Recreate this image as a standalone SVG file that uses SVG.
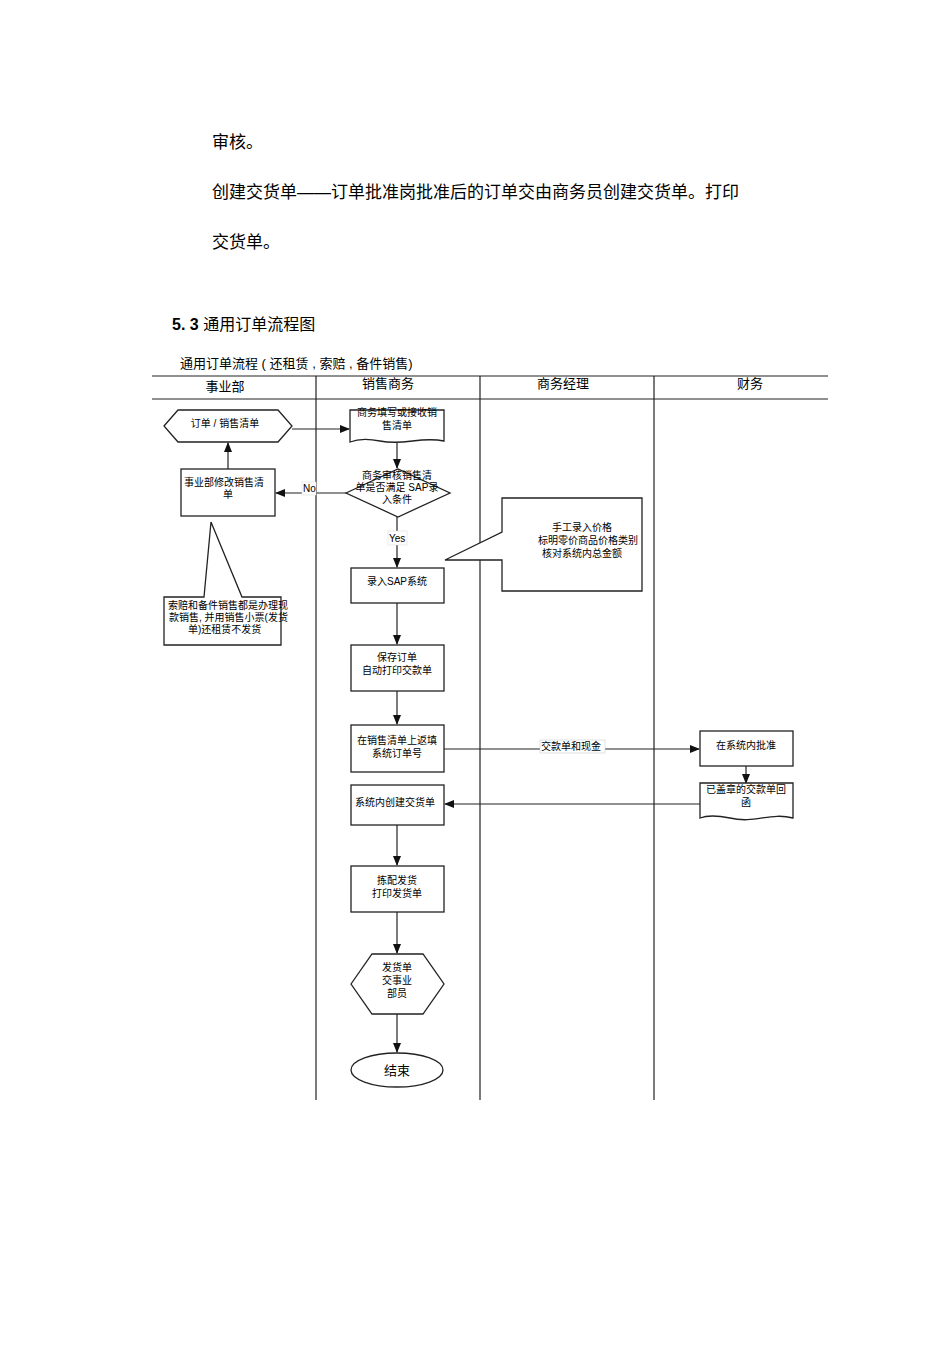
<svg xmlns="http://www.w3.org/2000/svg" width="950" height="1345" viewBox="0 0 950 1345">
<style>
text{font-family:"Liberation Sans","Noto Sans CJK SC",sans-serif;fill:#000}
.s{font-size:10px}
.b{font-size:17px}
.n{fill:#fff;stroke:#222;stroke-width:1.3}
.l{stroke:#222;stroke-width:1.2;fill:none}
.c{stroke:#222;stroke-width:1.2;fill:none;marker-end:url(#a)}
</style>
<defs><marker id="a" markerWidth="10" markerHeight="10" refX="9" refY="5" orient="auto" markerUnits="userSpaceOnUse"><path d="M0,1 L10,5 L0,9 Z" fill="#111"/></marker></defs>
<rect width="950" height="1345" fill="#fff"/>
<text class="b" x="212" y="148">审核。</text>
<text class="b" x="212" y="198">创建交货单——订单批准岗批准后的订单交由商务员创建交货单。打印</text>
<text class="b" x="212" y="248">交货单。</text>
<text x="172" y="330" font-size="16"><tspan font-weight="bold">5. 3</tspan> 通用订单流程图</text>
<text x="180" y="368" font-size="13">通用订单流程 ( 还租赁 , 索赔 , 备件销售)</text>
<g id="lanes" class="l">
<line x1="152" y1="376" x2="828" y2="376"/><line x1="152" y1="399" x2="828" y2="399"/>
<line x1="316" y1="376" x2="316" y2="1100"/><line x1="480" y1="376" x2="480" y2="1100"/><line x1="654" y1="376" x2="654" y2="1100"/>
</g>
<g font-size="13"><text x="225" y="391" text-anchor="middle">事业部</text><text x="388" y="388" text-anchor="middle">销售商务</text><text x="563" y="388" text-anchor="middle">商务经理</text><text x="750" y="388" text-anchor="middle">财务</text></g>
<g id="connectors">
<line class="c" x1="292" y1="429" x2="349" y2="429"/>
<line class="c" x1="397" y1="442" x2="397" y2="468"/>
<line class="c" x1="346" y1="493" x2="276" y2="493"/>
<line class="c" x1="228" y1="469" x2="228" y2="443"/>
<line class="c" x1="397" y1="517" x2="397" y2="567"/>
<line class="c" x1="397" y1="603" x2="397" y2="644"/>
<line class="c" x1="397" y1="691" x2="397" y2="724"/>
<line class="c" x1="444" y1="749" x2="699" y2="749"/>
<line class="c" x1="746" y1="766" x2="746" y2="783"/>
<line class="c" x1="700" y1="804" x2="445" y2="804"/>
<line class="c" x1="397" y1="825" x2="397" y2="865"/>
<line class="c" x1="397" y1="912" x2="397" y2="953"/>
<line class="c" x1="397" y1="1014" x2="397" y2="1052"/>
<rect x="302" y="482" width="14" height="13" fill="#fff" stroke="#ddd" stroke-width="0.6"/><text class="s" x="303" y="492">No</text>
<rect x="388" y="531" width="19" height="14" fill="#fff" stroke="#ddd" stroke-width="0.6"/><text class="s" x="389" y="542">Yes</text>
<rect x="540" y="740" width="65" height="13" fill="#fff" stroke="#ccc" stroke-width="0.6"/><text class="s" x="541" y="750">交款单和现金</text>
</g>
<g id="n1"><polygon class="n" points="164,426 178,410 278,410 292,426 278,442 178,442"/><text class="s" x="225" y="427" text-anchor="middle">订单 / 销售清单</text></g>
<g id="n2"><path class="n" d="M350,410 H444 V441 C420,436 405,446 380,441 C365,438 355,440 350,442 Z"/><text class="s" x="397" y="416" text-anchor="middle">商务填写或接收销</text><text class="s" x="397" y="429" text-anchor="middle">售清单</text></g>
<g id="n3"><polygon class="n" points="346,493 398,469 450,493 398,517"/><text class="s" x="397" y="479" text-anchor="middle">商务审核销售清</text><text class="s" x="397" y="491" text-anchor="middle">单是否满足 SAP录</text><text class="s" x="397" y="503" text-anchor="middle">入条件</text></g>
<g id="n4"><rect class="n" x="181" y="469" width="94" height="47"/><text class="s" x="224" y="486" text-anchor="middle">事业部修改销售清</text><text class="s" x="228" y="498" text-anchor="middle">单</text></g>
<g id="n5"><path class="n" d="M502,498 H642 V591 H502 V560 L445,560 L502,532 Z"/><text class="s" x="582" y="531" text-anchor="middle">手工录入价格</text><text class="s" x="588" y="544" text-anchor="middle">标明零价商品价格类别</text><text class="s" x="582" y="557" text-anchor="middle">核对系统内总金额</text></g>
<g id="n6"><path class="n" d="M164,597 H204 L211,522 L242,597 H281 V645 H164 Z"/><text class="s" x="168" y="609">索赔和备件销售都是办理现</text><text class="s" x="169" y="621">款销售, 并用销售小票(发货</text><text class="s" x="188" y="633">单)还租赁不发货</text></g>
<g id="n7"><rect class="n" x="351" y="568" width="93" height="35"/><text class="s" x="397" y="585" text-anchor="middle">录入SAP系统</text></g>
<g id="n8"><rect class="n" x="351" y="645" width="93" height="46"/><text class="s" x="397" y="661" text-anchor="middle">保存订单</text><text class="s" x="397" y="674" text-anchor="middle">自动打印交款单</text></g>
<g id="n9"><rect class="n" x="351" y="725" width="93" height="47"/><text class="s" x="397" y="744" text-anchor="middle">在销售清单上返填</text><text class="s" x="397" y="757" text-anchor="middle">系统订单号</text></g>
<g id="n10"><rect class="n" x="700" y="731" width="93" height="35"/><text class="s" x="746" y="749" text-anchor="middle">在系统内批准</text></g>
<g id="n11"><path class="n" d="M700,783 H793 V818 C770,812 755,824 730,818 C715,815 705,816 700,818 Z"/><text class="s" x="746" y="793" text-anchor="middle">已盖章的交款单回</text><text class="s" x="746" y="806" text-anchor="middle">函</text></g>
<g id="n12"><rect class="n" x="351" y="785" width="93" height="40"/><text class="s" x="395" y="806" text-anchor="middle">系统内创建交货单</text></g>
<g id="n13"><rect class="n" x="351" y="866" width="93" height="46"/><text class="s" x="397" y="884" text-anchor="middle">拣配发货</text><text class="s" x="397" y="897" text-anchor="middle">打印发货单</text></g>
<g id="n14"><polygon class="n" points="351,984 372,954 423,954 444,984 423,1014 372,1014"/><text class="s" x="397" y="971" text-anchor="middle">发货单</text><text class="s" x="397" y="984" text-anchor="middle">交事业</text><text class="s" x="397" y="997" text-anchor="middle">部员</text></g>
<g id="n15"><ellipse class="n" cx="397" cy="1070" rx="46" ry="17"/><text x="397" y="1075" font-size="13" text-anchor="middle">结束</text></g>
</svg>
